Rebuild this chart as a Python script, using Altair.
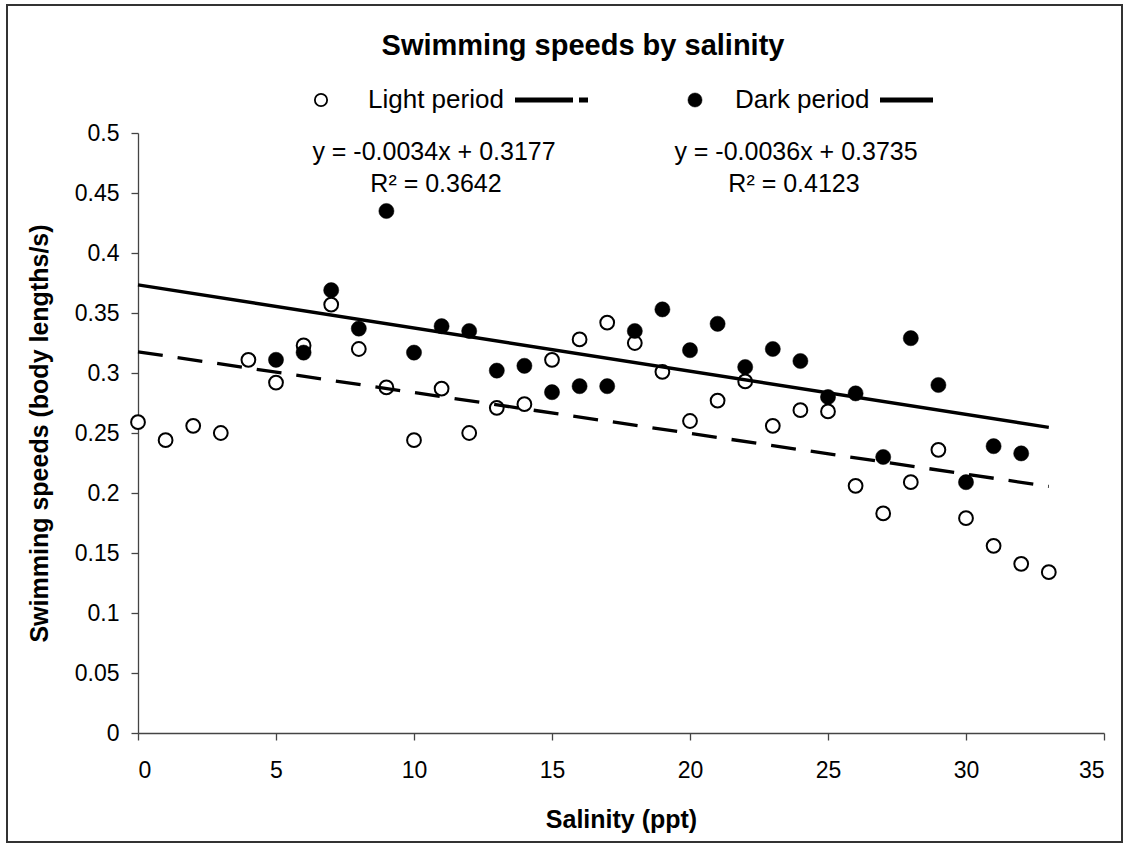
import altair as alt
import pandas as pd

# ---- data ----
light_x = list(range(0, 34))
light_y = [0.259, 0.244, 0.256, 0.250, 0.311, 0.292, 0.323, 0.357, 0.320, 0.288,
           0.244, 0.287, 0.250, 0.271, 0.274, 0.311, 0.328, 0.342, 0.325, 0.301,
           0.260, 0.277, 0.293, 0.256, 0.269, 0.268, 0.206, 0.183, 0.209, 0.236,
           0.179, 0.156, 0.141, 0.134]
dark_x = list(range(5, 33))
dark_y = [0.311, 0.317, 0.369, 0.337, 0.435, 0.317, 0.339, 0.335, 0.302, 0.306,
          0.284, 0.289, 0.289, 0.335, 0.353, 0.319, 0.341, 0.305, 0.320, 0.310,
          0.280, 0.283, 0.230, 0.329, 0.290, 0.209, 0.239, 0.233]

series_names = ["Light period", "Dark period"]
slopes = [-0.0034, -0.0036]
intercepts = [0.3177, 0.3735]
r2 = ["0.3642", "0.4123"]
trend_extent = [0, 33]

x_ticks = [0, 5, 10, 15, 20, 25, 30, 35]
y_ticks = [0, 0.05, 0.1, 0.15, 0.2, 0.25, 0.3, 0.35, 0.4, 0.45, 0.5]

FONT = "Liberation Sans"
PL, PT = 138, 133
W, H = 966, 600

light_df = pd.DataFrame({"x": light_x, "y": light_y})
dark_df = pd.DataFrame({"x": dark_x, "y": dark_y})
trend_light = pd.DataFrame({"x": trend_extent,
                            "y": [intercepts[0] + slopes[0] * v for v in trend_extent]})
trend_dark = pd.DataFrame({"x": trend_extent,
                           "y": [intercepts[1] + slopes[1] * v for v in trend_extent]})
one = pd.DataFrame({"a": [0]})

xs = alt.Scale(domain=[0, 35], nice=False, zero=False)
ys = alt.Scale(domain=[0, 0.5], nice=False)

x_axis = alt.Axis(values=x_ticks, title="Salinity (ppt)", grid=False, format="d",
                  tickSize=7, labelPadding=19, titlePadding=25)
y_axis = alt.Axis(values=y_ticks, title="Swimming speeds (body lengths/s)", grid=False,
                  format="~g", tickSize=7, labelPadding=12, titlePadding=22)

light_pts = alt.Chart(light_df).mark_point(
    shape="circle", size=190, filled=True, fill="white", stroke="black",
    strokeWidth=2, opacity=1
).encode(
    x=alt.X("x:Q", scale=xs, axis=x_axis),
    y=alt.Y("y:Q", scale=ys, axis=y_axis),
)
dark_pts = alt.Chart(dark_df).mark_point(
    shape="circle", size=230, filled=True, fill="black", stroke="black",
    strokeWidth=0.5, opacity=1
).encode(x=alt.X("x:Q", scale=xs), y=alt.Y("y:Q", scale=ys))

line_light = alt.Chart(trend_light).mark_line(
    color="black", strokeWidth=3.3, strokeDash=[25, 15]
).encode(x=alt.X("x:Q", scale=xs), y=alt.Y("y:Q", scale=ys))
line_dark = alt.Chart(trend_dark).mark_line(
    color="black", strokeWidth=3.3
).encode(x=alt.X("x:Q", scale=xs), y=alt.Y("y:Q", scale=ys))


def txt(text, px, py, size=25, weight="normal", align="center"):
    return alt.Chart(one).mark_text(
        text=text, font=FONT, fontSize=size, fontWeight=weight, align=align,
        baseline="middle", color="black"
    ).encode(x=alt.value(px - PL), y=alt.value(py - PT))


title = txt("Swimming speeds by salinity", 583, 46, size=29, weight="bold")

leg_y = 100
leg_light_sym = alt.Chart(one).mark_point(
    shape="circle", size=150, filled=True, fill="white", stroke="black",
    strokeWidth=1.8, opacity=1
).encode(x=alt.value(321 - PL), y=alt.value(leg_y - PT))
leg_dark_sym = alt.Chart(one).mark_point(
    shape="circle", size=200, filled=True, fill="black", stroke="black",
    strokeWidth=0.5, opacity=1
).encode(x=alt.value(695 - PL), y=alt.value(leg_y - PT))
leg_light_txt = txt(series_names[0], 368, leg_y, size=26, align="left")
leg_dark_txt = txt(series_names[1], 735, leg_y, size=26, align="left")
leg_light_line = alt.Chart(one).mark_rule(
    color="black", strokeWidth=5, strokeDash=[58, 6]
).encode(x=alt.value(515 - PL), x2=alt.value(588 - PL), y=alt.value(leg_y - PT))
leg_dark_line = alt.Chart(one).mark_rule(
    color="black", strokeWidth=5
).encode(x=alt.value(880 - PL), x2=alt.value(933 - PL), y=alt.value(leg_y - PT))


def eq(i):
    return f"y = {slopes[i]:.4f}x + {intercepts[i]:.4f}"


eq1 = txt(eq(0), 434, 152)
r1 = txt("R² = " + r2[0], 436, 184)
eq2 = txt(eq(1), 796, 152)
r2t = txt("R² = " + r2[1], 794, 184)

frame = alt.Chart(one).mark_rect(
    fill="transparent", stroke="#333333", strokeWidth=2
).encode(x=alt.value(7 - PL), x2=alt.value(1122 - PL),
         y=alt.value(5 - PT), y2=alt.value(842 - PT))

chart = alt.layer(
    frame, light_pts, dark_pts, line_light, line_dark, title,
    leg_light_sym, leg_light_txt, leg_light_line,
    leg_dark_sym, leg_dark_txt, leg_dark_line,
    eq1, r1, eq2, r2t,
).properties(
    width=W, height=H,
    autosize=alt.AutoSizeParams(type="none"),
    padding={"left": PL, "top": PT, "right": 1129 - PL - W, "bottom": 847 - PT - H},
    background="white",
).configure_view(strokeWidth=0).configure_axis(
    labelFont=FONT, labelFontSize=23, labelColor="black",
    titleFont=FONT, titleFontSize=25, titleFontWeight="bold", titleColor="black",
    domainColor="#444444", tickColor="#444444", domainWidth=1.3, tickWidth=1.3,
)

chart.save("out.html", embed_options={"renderer": "svg", "actions": False})
